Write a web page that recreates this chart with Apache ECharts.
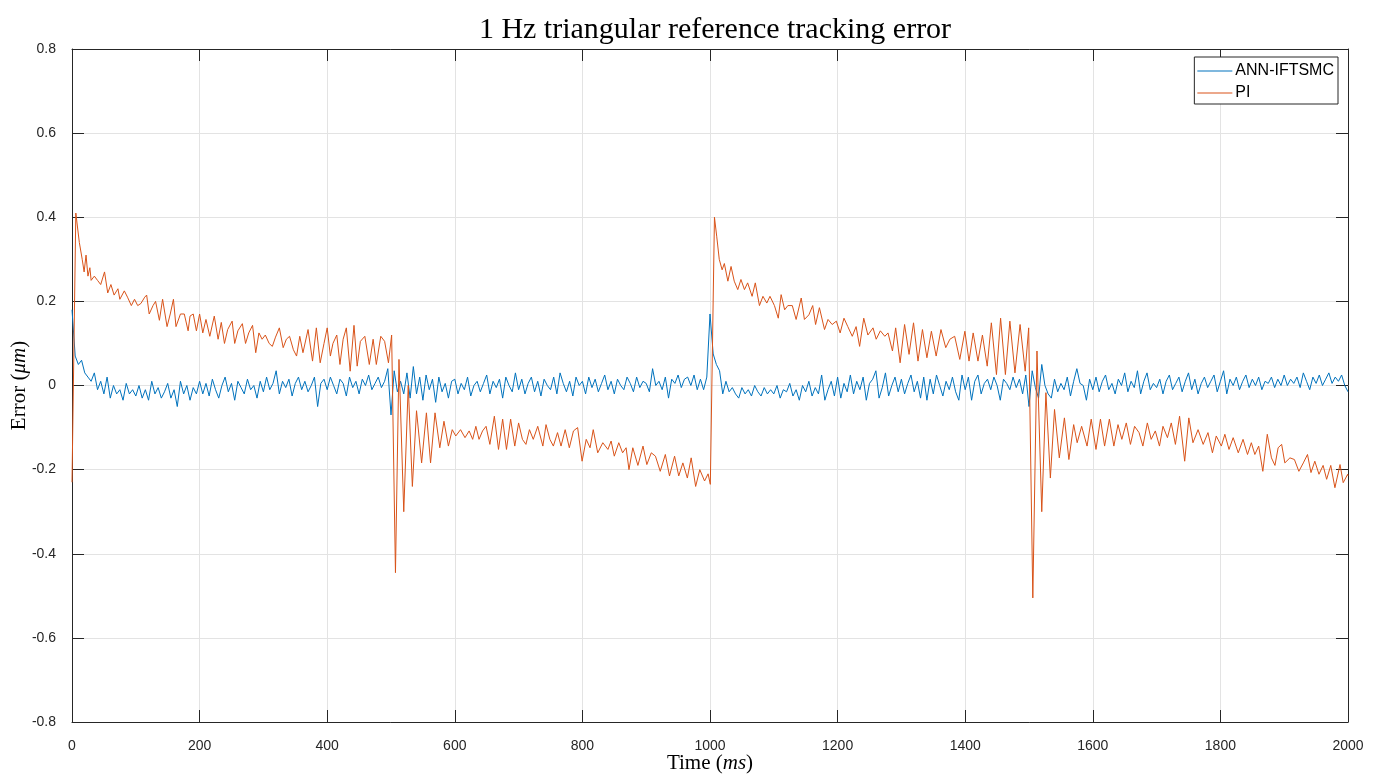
<!DOCTYPE html>
<html>
<head>
<meta charset="utf-8">
<title>1 Hz triangular reference tracking error</title>
<script src="https://cdn.jsdelivr.net/npm/echarts@6/dist/echarts.min.js"></script>
<style>
  html, body { margin: 0; padding: 0; background: #fff; }
  #chart { width: 1383px; height: 774px; }
</style>
</head>
<body>
<div id="chart"></div>
<script>
// Tracking error (µm) of the ANN-IFTSMC controller, sampled every ANN_STEP ms from t = 0
const ANN_STEP = 5;
const annE = [
  0.18, 0.07, 0.05, 0.06, 0.03, 0.02, 0.01, 0.03, -0.01, 0.01, -0.02, 0.02, -0.03, 0.00, -0.02, -0.01, -0.035, 0.005, -0.02, -0.01,
  -0.025, 0.00, -0.03, -0.01, -0.035, 0.01, -0.02, -0.005, -0.03, -0.015, 0.005, -0.03, -0.01, -0.05, 0.01, -0.02, 0.00, -0.035, -0.005, -0.02,
  0.01, -0.02, 0.005, -0.025, 0.015, -0.01, -0.03, 0.00, 0.02, -0.015, 0.005, -0.035, 0.01, -0.005, -0.02, 0.015, -0.01, 0.00, -0.03, 0.01,
  -0.015, 0.02, -0.01, 0.005, 0.035, -0.02, 0.01, -0.005, 0.015, -0.025, 0.005, 0.02, -0.01, 0.01, -0.015, 0.00, 0.02, -0.05, 0.005, 0.015,
  -0.01, 0.02, 0.00, -0.02, 0.015, 0.005, -0.025, 0.02, -0.005, 0.01, -0.02, 0.015, 0.00, 0.025, -0.01, 0.005, 0.02, -0.005, 0.01, 0.04,
  -0.07, 0.035, -0.015, 0.01, -0.02, 0.03, -0.03, 0.045, -0.02, 0.02, -0.035, 0.025, -0.01, 0.015, -0.04, 0.02, -0.015, 0.005, -0.03, 0.01,
  0.015, -0.02, 0.005, -0.01, 0.02, -0.025, 0.00, 0.01, -0.015, 0.005, 0.025, -0.02, 0.01, -0.005, 0.015, -0.03, 0.02, 0.00, -0.015, 0.03,
  -0.01, 0.015, -0.02, 0.005, 0.02, -0.015, 0.01, -0.025, 0.015, 0.00, -0.01, 0.02, -0.02, 0.03, 0.005, -0.015, 0.01, -0.025, 0.02, 0.00,
  0.01, -0.02, 0.02, -0.005, 0.015, -0.015, 0.005, 0.025, -0.01, 0.01, -0.02, 0.015, 0.00, -0.01, 0.02, 0.005, -0.015, 0.02, -0.005, 0.01,
  0.005, -0.015, 0.04, 0.00, 0.01, -0.01, 0.02, -0.03, 0.015, 0.005, 0.025, -0.005, 0.015, 0.02, 0.00, 0.025, -0.01, 0.015, -0.01, 0.02,
  0.17, 0.075, 0.05, 0.035, -0.02, 0.01, -0.015, -0.005, -0.02, -0.03, -0.005, -0.02, -0.01, -0.025, 0.00, -0.015, -0.025, -0.005, -0.02, -0.01,
  -0.02, 0.00, -0.03, -0.01, -0.015, 0.005, -0.025, -0.01, -0.035, 0.00, -0.015, 0.01, -0.025, -0.005, -0.02, 0.025, -0.035, -0.01, 0.01, -0.025,
  0.02, -0.03, 0.005, -0.015, 0.025, -0.02, 0.01, -0.01, 0.02, -0.035, 0.005, 0.015, 0.035, -0.03, -0.005, 0.03, -0.025, 0.00, 0.02, -0.015,
  0.015, -0.02, 0.005, 0.025, -0.015, 0.01, -0.03, 0.02, -0.035, 0.015, -0.02, 0.025, 0.00, -0.025, 0.01, -0.01, 0.02, -0.015, -0.035, 0.025,
  -0.01, 0.02, -0.035, 0.01, 0.025, -0.02, 0.005, 0.015, -0.01, 0.02, 0.00, -0.035, 0.015, 0.005, -0.01, 0.02, -0.005, 0.015, -0.02, 0.025,
  -0.05, 0.035, -0.005, -0.03, 0.05, 0.00, -0.02, -0.03, 0.015, -0.015, 0.005, -0.01, 0.02, -0.025, 0.01, 0.04, 0.005, 0.00, -0.035, 0.015,
  -0.01, 0.02, -0.015, 0.01, 0.025, -0.01, 0.005, -0.02, 0.015, 0.00, 0.03, -0.015, 0.01, -0.005, 0.035, -0.02, 0.01, 0.03, -0.01, 0.005,
  -0.005, 0.015, -0.02, 0.01, 0.025, -0.01, 0.005, 0.02, -0.015, 0.01, 0.03, -0.01, 0.015, -0.02, 0.005, 0.02, -0.005, 0.01, 0.025, -0.015,
  0.01, 0.035, -0.02, 0.015, 0.00, 0.02, -0.01, 0.01, 0.025, -0.005, 0.015, 0.00, 0.02, -0.01, 0.01, 0.005, 0.02, -0.005, 0.015, 0.00,
  0.025, 0.00, 0.015, 0.005, 0.02, -0.005, 0.03, 0.01, -0.01, 0.02, 0.005, 0.025, 0.00, 0.015, 0.03, 0.005, 0.02, 0.01, 0.025, 0.00,
  -0.015
];

// Tracking error (µm) of the PI controller: sample times (ms) and values
const piT = [
  0, 6, 11.5, 16, 19, 22, 25, 28, 30, 35, 40, 45, 51, 56, 61, 66, 72, 75, 82, 87,
  93, 98, 103, 108, 114, 117, 121, 127, 131, 137, 142, 149, 154, 159, 163, 170, 176, 182, 185, 190,
  195, 200, 205, 210, 216, 223, 229, 234, 239, 244, 251, 255, 260, 267, 272, 277, 283, 288, 293, 298,
  303, 309, 314, 319, 325, 331, 336, 341, 347, 352, 357, 362, 370, 377, 383, 389, 395, 400, 405, 409,
  415, 420, 425, 430, 436, 442, 447, 452, 459, 466, 472, 477, 484, 490, 496, 501, 507, 512.5, 520, 527,
  533.5, 540, 548, 555.5, 562, 569, 576.5, 583, 590, 596, 601.5, 609, 616, 622.5, 628, 633, 638, 643.5, 649, 655,
  662, 668.5, 675, 681, 687.5, 694, 700, 706, 711.5, 717, 723, 730, 738, 743, 749, 754.5, 761, 766.5, 773, 779.5,
  786, 792.5, 799.5, 806, 812, 817, 824, 832, 840, 845, 850, 857, 863, 868.5, 873, 879, 887, 895, 901, 908,
  914.5, 922, 930, 936.5, 944.5, 951, 957.5, 964.5, 970.5, 977.5, 984, 991.5, 997, 1000.5, 1007, 1010.5, 1014.5, 1019, 1022.5, 1028,
  1033, 1038, 1043.5, 1048.5, 1054, 1059, 1066, 1071, 1077.5, 1083, 1089, 1094, 1101, 1107, 1111.5, 1117, 1122, 1129, 1135, 1143,
  1148, 1155, 1161, 1165.5, 1171.5, 1179.5, 1185, 1191.5, 1198, 1204, 1210, 1216, 1223, 1229, 1234.5, 1241, 1247.5, 1255.5, 1260.5, 1267,
  1274, 1279, 1286, 1291, 1298, 1305, 1312, 1319, 1326, 1333, 1340, 1347, 1354.5, 1362, 1369.5, 1376, 1383.5, 1391.5, 1399.5, 1406,
  1412.5, 1420, 1427, 1434.5, 1441, 1449, 1455.5, 1463, 1470, 1478, 1486, 1494, 1499.5, 1506, 1512.5, 1520, 1526.5, 1533.5, 1540, 1547.5,
  1555.5, 1562.5, 1570, 1575.5, 1582.5, 1591, 1597.5, 1605, 1612, 1618.5, 1626, 1633, 1639.5, 1645.5, 1652.5, 1659, 1665.5, 1672.5, 1678.5, 1685.5,
  1691.5, 1698, 1704.5, 1710, 1717, 1723, 1729.5, 1736, 1744, 1750.5, 1757, 1765, 1773, 1780.5, 1787.5, 1793.5, 1801.5, 1807, 1813.5, 1820,
  1828, 1835.5, 1842.5, 1848.5, 1854, 1860, 1866.5, 1873.5, 1880, 1885.5, 1890.5, 1896, 1901, 1909, 1916, 1923, 1930, 1936.5, 1942, 1948,
  1954.5, 1961, 1966.5, 1973, 1979.5, 1987.5, 1992.5, 1999.5, 2000
];
const piE = [
  -0.23, 0.41, 0.34, 0.30, 0.27, 0.31, 0.26, 0.28, 0.25, 0.26, 0.25, 0.24, 0.27, 0.22, 0.24, 0.215, 0.23, 0.205, 0.225, 0.21,
  0.19, 0.205, 0.19, 0.195, 0.21, 0.215, 0.17, 0.19, 0.20, 0.155, 0.205, 0.14, 0.17, 0.205, 0.14, 0.17, 0.17, 0.13, 0.165, 0.17,
  0.13, 0.17, 0.125, 0.157, 0.117, 0.165, 0.11, 0.15, 0.10, 0.133, 0.153, 0.10, 0.13, 0.147, 0.10, 0.125, 0.143, 0.078, 0.125, 0.11,
  0.12, 0.10, 0.093, 0.115, 0.137, 0.09, 0.11, 0.117, 0.085, 0.07, 0.117, 0.078, 0.133, 0.058, 0.137, 0.054, 0.10, 0.137, 0.07, 0.10,
  0.12, 0.05, 0.11, 0.137, 0.034, 0.143, 0.046, 0.105, 0.117, 0.05, 0.11, 0.05, 0.117, 0.105, 0.054, 0.12, -0.445, 0.062, -0.30, 0.0,
  -0.24, -0.06, -0.184, -0.065, -0.184, -0.065, -0.148, -0.085, -0.144, -0.105, -0.12, -0.105, -0.124, -0.108, -0.128, -0.097, -0.128, -0.108, -0.097, -0.14,
  -0.073, -0.152, -0.08, -0.152, -0.08, -0.144, -0.089, -0.128, -0.14, -0.105, -0.128, -0.097, -0.144, -0.093, -0.128, -0.144, -0.112, -0.144, -0.105, -0.148,
  -0.108, -0.10, -0.18, -0.128, -0.148, -0.105, -0.16, -0.136, -0.152, -0.132, -0.168, -0.136, -0.16, -0.148, -0.20, -0.148, -0.19, -0.144, -0.188, -0.16,
  -0.168, -0.204, -0.164, -0.215, -0.168, -0.215, -0.184, -0.22, -0.172, -0.24, -0.20, -0.227, -0.21, -0.235, 0.40, 0.355, 0.30, 0.275, 0.29, 0.248,
  0.283, 0.248, 0.228, 0.252, 0.228, 0.244, 0.212, 0.244, 0.19, 0.212, 0.196, 0.212, 0.19, 0.16, 0.216, 0.18, 0.19, 0.19, 0.157, 0.208,
  0.157, 0.168, 0.19, 0.145, 0.185, 0.133, 0.157, 0.145, 0.153, 0.125, 0.16, 0.14, 0.117, 0.14, 0.093, 0.16, 0.12, 0.137, 0.11, 0.13,
  0.117, 0.125, 0.082, 0.137, 0.054, 0.145, 0.074, 0.149, 0.058, 0.133, 0.066, 0.129, 0.07, 0.133, 0.09, 0.11, 0.117, 0.062, 0.129, 0.058,
  0.125, 0.058, 0.12, 0.046, 0.149, 0.026, 0.16, 0.026, 0.153, 0.03, 0.145, 0.034, 0.137, -0.505, 0.082, -0.30, -0.017, -0.22, -0.057, -0.172,
  -0.077, -0.176, -0.093, -0.136, -0.097, -0.144, -0.08, -0.152, -0.08, -0.144, -0.08, -0.144, -0.093, -0.128, -0.089, -0.14, -0.097, -0.112, -0.144, -0.089,
  -0.128, -0.108, -0.144, -0.097, -0.124, -0.089, -0.14, -0.073, -0.18, -0.077, -0.136, -0.105, -0.14, -0.112, -0.16, -0.12, -0.144, -0.116, -0.152, -0.124,
  -0.16, -0.128, -0.164, -0.136, -0.164, -0.144, -0.204, -0.116, -0.172, -0.19, -0.148, -0.14, -0.184, -0.172, -0.176, -0.204, -0.184, -0.164, -0.207, -0.18,
  -0.211, -0.19, -0.223, -0.19, -0.243, -0.188, -0.231, -0.211, -0.215
];

// Axis ranges and tick spacing
const X_MIN = 0, X_MAX = 2000, X_STEP = 200;
const Y_MIN = -0.8, Y_MAX = 0.8, Y_STEP = 0.2;

const annData = annE.map((v, i) => [i * ANN_STEP, v]);
const piData = piT.map((t, i) => [t, piE[i]]);

const AXIS_COLOR = '#262626';
const GRID_COLOR = '#e3e3e3';
const TICK_FONT = 'Liberation Sans, Arial, sans-serif';
const SERIF = 'Liberation Serif, Times New Roman, serif';

const chart = echarts.init(document.getElementById('chart'), null, { renderer: 'canvas' });

const baseX = {
  type: 'value', min: X_MIN, max: X_MAX, interval: X_STEP,
  axisLine: { show: true, onZero: false, lineStyle: { color: AXIS_COLOR, width: 1 } },
  axisTick: { show: true, inside: true, length: 12, lineStyle: { color: AXIS_COLOR } },
  splitLine: { show: false }
};
const baseY = {
  type: 'value', min: Y_MIN, max: Y_MAX, interval: Y_STEP,
  axisLine: { show: true, onZero: false, lineStyle: { color: AXIS_COLOR, width: 1 } },
  axisTick: { show: true, inside: true, length: 12, lineStyle: { color: AXIS_COLOR } },
  splitLine: { show: false }
};

const nameStyle = {
  fontFamily: SERIF, fontSize: 21, color: '#000',
  rich: { i: { fontFamily: SERIF, fontSize: 21, fontStyle: 'italic', color: '#000' } }
};

chart.setOption({
  animation: false,
  backgroundColor: '#ffffff',
  title: {
    text: '1 Hz triangular reference tracking error',
    left: 710, top: 10, textAlign: 'center',
    textStyle: { fontFamily: SERIF, fontSize: 30, fontWeight: 'normal', color: '#000' }
  },
  legend: {
    right: 45, top: 57,
    orient: 'vertical',
    data: ['ANN-IFTSMC', 'PI'],
    icon: 'rect',
    itemWidth: 35, itemHeight: 1,
    itemGap: 6,
    padding: [6, 4, 3, 3],
    backgroundColor: '#fff',
    borderColor: AXIS_COLOR, borderWidth: 1, borderRadius: 0,
    textStyle: { fontFamily: TICK_FONT, fontSize: 16, color: '#000', padding: [0, 0, 0, -2] }
  },
  grid: { left: 72, right: 35, top: 49, bottom: 52, containLabel: false, outerBoundsMode: 'none' },
  xAxis: [
    Object.assign({}, baseX, {
      position: 'bottom',
      name: 'Time ({i|ms})', nameLocation: 'middle', nameGap: 31, nameMoveOverlap: false,
      nameTextStyle: nameStyle,
      axisLabel: {
        show: true, margin: 17, fontFamily: TICK_FONT, fontSize: 14, color: AXIS_COLOR,
        formatter: v => String(v)
      },
      splitLine: { show: true, lineStyle: { color: GRID_COLOR, width: 1 } }
    }),
    Object.assign({}, baseX, { position: 'top', axisLabel: { show: false } })
  ],
  yAxis: [
    Object.assign({}, baseY, {
      position: 'left',
      name: 'Error ({i|μm})', nameLocation: 'middle', nameGap: 42, nameMoveOverlap: false,
      nameTextStyle: nameStyle,
      axisLabel: {
        show: true, margin: 16, fontFamily: TICK_FONT, fontSize: 14, color: AXIS_COLOR,
        formatter: v => String(Math.round(v * 10) / 10)
      },
      splitLine: { show: true, lineStyle: { color: GRID_COLOR, width: 1 } }
    }),
    Object.assign({}, baseY, { position: 'right', axisLabel: { show: false } })
  ],
  series: [
    {
      name: 'ANN-IFTSMC', type: 'line', data: annData,
      xAxisIndex: 0, yAxisIndex: 0,
      showSymbol: false, symbol: 'none',
      lineStyle: { color: '#0072BD', width: 1 },
      itemStyle: { color: '#0072BD' },
      z: 3
    },
    {
      name: 'PI', type: 'line', data: piData,
      xAxisIndex: 0, yAxisIndex: 0,
      showSymbol: false, symbol: 'none',
      lineStyle: { color: '#D95319', width: 1 },
      itemStyle: { color: '#D95319' },
      z: 4
    }
  ]
});
</script>
</body>
</html>
